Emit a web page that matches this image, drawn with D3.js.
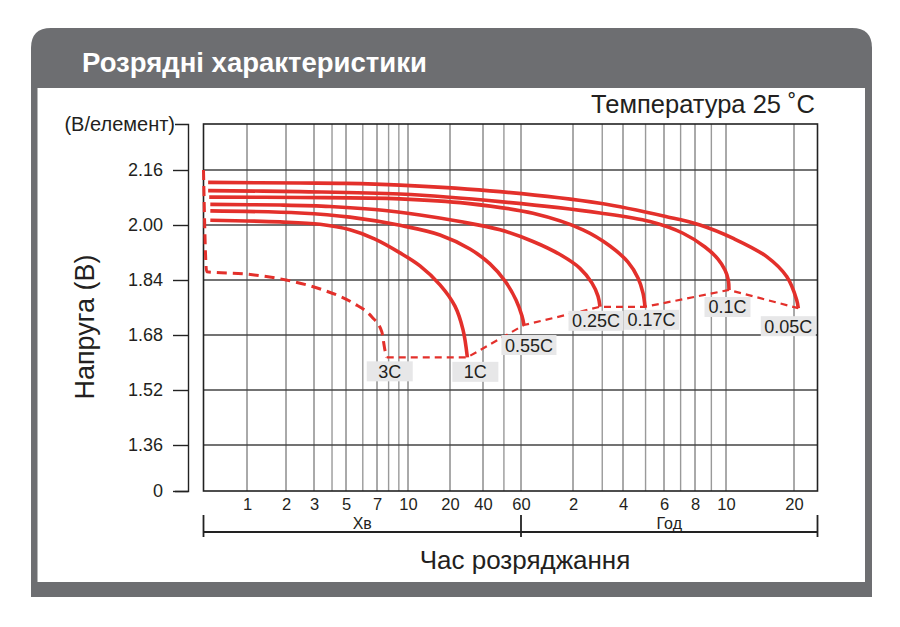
<!DOCTYPE html>
<html>
<head>
<meta charset="utf-8">
<script src="https://cdn.jsdelivr.net/npm/d3@7"></script>
<style>
  body { margin: 0; background: #fff; }
  svg text { font-family: "Liberation Sans", Arial, sans-serif; fill: #231f20; }
</style>
</head>
<body>
<div id="chart"></div>
<script>
// discharge rates, in the order their cut-off points get joined
const rates = ["3C", "1C", "0.55C", "0.25C", "0.17C", "0.1C", "0.05C"];

// each curve: [discharge time in minutes, volts per cell]
const curve3C = [[0.45, 2.16], [0.477, 1.864], [1.0, 1.857], [2.0, 1.84], [3.47, 1.811], [5.4, 1.773],
    [6.61, 1.733], [7.39, 1.69], [7.67, 1.636], [7.83, 1.615]];
const curve1C = [[0.51, 2.014], [1.8, 2.009], [3.3, 2.002], [5.22, 1.986], [6.85, 1.959], [9.12, 1.919],
    [12.19, 1.881], [16.96, 1.826], [22.2, 1.764], [26.3, 1.695], [28.8, 1.615]];
const curve055C = [[0.51, 2.041], [2.45, 2.035], [5.22, 2.023], [9.12, 1.999], [16.96, 1.971], [30.4, 1.93],
    [43.1, 1.887], [50.6, 1.837], [56.9, 1.782], [60.8, 1.735], [62.4, 1.709]];
const curve025C = [[0.51, 2.06], [1.8, 2.058], [3.87, 2.054], [6.85, 2.045], [12.19, 2.029], [24.7, 2.01],
    [48, 1.986], [70.4, 1.952], [100.9, 1.914], [132.2, 1.874], [156.2, 1.831], [169.7, 1.793], [174.5, 1.762]];
const curve017C = [[0.5, 2.081], [2.45, 2.08], [9.12, 2.076], [28.6, 2.063], [70.4, 2.034], [137.8, 1.986],
    [200.4, 1.939], [252.2, 1.892], [278.4, 1.846], [292.5, 1.802], [298.3, 1.762]];
const curve01C = [[0.49, 2.1], [2.45, 2.097], [9.12, 2.09], [48, 2.068], [174.5, 2.035], [313.4, 2.01],
    [429.4, 1.976], [515.8, 1.936], [566.4, 1.901], [595.7, 1.869], [614.2, 1.84], [618.6, 1.811]];
const curve005C = [[0.49, 2.124], [2.45, 2.122], [4.92, 2.121], [9.12, 2.116], [48, 2.097], [174.5, 2.063],
    [369.1, 2.024], [497.6, 2.0], [646.4, 1.961], [908.4, 1.908], [1113.8, 1.85], [1233, 1.782], [1253, 1.758]];

const yTicks = [0, 1.36, 1.52, 1.68, 1.84, 2.00, 2.16];
// x ticks in minutes, labels switch to hours after 60
const xTickValues = [1, 2, 3, 5, 7, 10, 20, 40, 60, 120, 240, 360, 480, 600, 1200];
const xTickLabels = ["1", "2", "3", "5", "7", "10", "20", "40", "60", "2", "4", "6", "8", "10", "20"];
const xGridValues = [1, 2, 3, 4, 5, 6, 7, 8, 9, 10, 20, 40, 50, 60,
    120, 180, 240, 300, 360, 420, 480, 540, 600, 1200];

const series = [curve3C, curve1C, curve055C, curve025C, curve017C, curve01C, curve005C]
    .map((pts, i) => ({ rate: rates[i], points: pts, dashed: i === 0 }));

const width = 900, height = 627;
const plot = { left: 203.5, right: 817.5, top: 124, bottom: 491 };
const red = "#e3302b";

const svg = d3.select("#chart")
    .append("svg")
    .attr("width", width)
    .attr("height", height);

// panel: grey card with rounded top, white body
svg.append("path")
    .attr("d", "M31,597V48Q31,28 51,28H852Q872,28 872,48V597Z")
    .attr("fill", "#6d6e71");
svg.append("rect")
    .attr("x", 37.5).attr("y", 88)
    .attr("width", 827.5).attr("height", 494)
    .attr("fill", "#fff");
svg.append("text")
    .attr("x", 82).attr("y", 71.5)
    .attr("font-size", 27.5).attr("font-weight", "bold")
    .style("fill", "#fff")
    .text("Розрядні характеристики");

// hand drawn log axis: piecewise log between the labelled ticks
const xScale = d3.scaleLog()
    .domain([0.45, ...xTickValues, 1520])
    .range([plot.left, 247, 286, 314, 346, 377, 408, 450, 483, 521, 573, 623, 664, 695, 726, 794, plot.right]);

// broken voltage axis: 0 sits right under 1.36
const yScale = d3.scaleLinear()
    .domain([0, 1.36, 2.16, 2.294])
    .range([plot.bottom, 445, 170, plot.top]);

// grid
svg.append("g")
    .selectAll("line")
    .data(xGridValues)
    .join("line")
    .attr("x1", d => xScale(d)).attr("x2", d => xScale(d))
    .attr("y1", plot.top).attr("y2", plot.bottom)
    .attr("stroke", d => xTickValues.includes(d) ? "#555" : "#9a9a9a")
    .attr("stroke-width", d => xTickValues.includes(d) ? 1 : 1.4);

svg.append("g")
    .selectAll("line")
    .data(yTicks.filter(d => d > 0))
    .join("line")
    .attr("x1", plot.left).attr("x2", plot.right)
    .attr("y1", d => yScale(d)).attr("y2", d => yScale(d))
    .attr("stroke", "#444")
    .attr("stroke-width", 1.3);

svg.append("rect")
    .attr("x", plot.left).attr("y", plot.top)
    .attr("width", plot.right - plot.left)
    .attr("height", plot.bottom - plot.top)
    .attr("fill", "none")
    .attr("stroke", "#222")
    .attr("stroke-width", 1.6);

// y axis sits apart from the frame
const yAxis = svg.append("g")
    .attr("transform", "translate(188,0)")
    .call(d3.axisLeft(yScale)
        .tickValues(yTicks)
        .tickSize(15)
        .tickSizeOuter(13)
        .tickPadding(10)
        .tickFormat(d => d === 0 ? "0" : d.toFixed(2)));
yAxis.selectAll("path, line").attr("stroke", "#222").attr("stroke-width", 1.4);
yAxis.selectAll("text").attr("font-size", 18).attr("font-family", null).attr("dy", "0.3em");

const xAxis = svg.append("g")
    .attr("transform", `translate(0,${plot.bottom})`)
    .call(d3.axisBottom(xScale)
        .tickValues(xTickValues)
        .tickSize(0)
        .tickPadding(7)
        .tickFormat((d, i) => xTickLabels[i]));
xAxis.select(".domain").remove();
xAxis.selectAll("text").attr("font-size", 16.5).attr("font-family", null);

// bracket under the ticks: minutes | hours
const bracketY = 532;
const bracket = svg.append("g").attr("stroke", "#222").attr("stroke-width", 1.8);
bracket.append("line")
    .attr("x1", plot.left).attr("x2", plot.right)
    .attr("y1", bracketY).attr("y2", bracketY);
bracket.selectAll(".end")
    .data([xScale.domain()[0], 60, xScale.domain()[xScale.domain().length - 1]])
    .join("line")
    .attr("x1", d => xScale(d)).attr("x2", d => xScale(d))
    .attr("y1", bracketY - 17).attr("y2", bracketY + 5);

svg.append("text")
    .attr("x", (plot.left + xScale(60)) / 2).attr("y", 528.5)
    .attr("text-anchor", "middle").attr("font-size", 16)
    .text("Хв");
svg.append("text")
    .attr("x", (xScale(60) + plot.right) / 2).attr("y", 528.5)
    .attr("text-anchor", "middle").attr("font-size", 16)
    .text("Год");

// axis titles
svg.append("text")
    .attr("x", 525).attr("y", 569)
    .attr("text-anchor", "middle").attr("font-size", 26)
    .text("Час розряджання");
svg.append("text")
    .attr("transform", "translate(94,327) rotate(-90)")
    .attr("text-anchor", "middle").attr("font-size", 27)
    .text("Напруга (В)");
svg.append("text")
    .attr("x", 175).attr("y", 131)
    .attr("text-anchor", "end").attr("font-size", 20)
    .text("(В/елемент)");
svg.append("text")
    .attr("x", 815).attr("y", 113)
    .attr("text-anchor", "end").attr("font-size", 25.5)
    .text("Температура 25 ˚C");

// discharge curves: catmull-rom for the smooth ones, monotone for the 3C
// one because its first drop is almost vertical
const smoothLine = d3.line()
    .x(d => xScale(d[0]))
    .y(d => yScale(d[1]))
    .curve(d3.curveCatmullRom.alpha(0.5));
const dropLine = d3.line()
    .x(d => xScale(d[0]))
    .y(d => yScale(d[1]))
    .curve(d3.curveMonotoneX);

svg.append("g")
    .selectAll("path")
    .data(series)
    .join("path")
    .attr("d", d => d.dashed ? dropLine(d.points) : smoothLine(d.points))
    .attr("fill", "none")
    .attr("stroke", red)
    .attr("stroke-width", d => d.dashed ? 3 : 3.6)
    .attr("stroke-dasharray", d => d.dashed ? "10,6" : null)
    .attr("stroke-linecap", "butt");

// cut-off voltage line through the end of every curve
const ends = series.map(s => s.points[s.points.length - 1]);
svg.append("path")
    .attr("d", d3.line().x(d => xScale(d[0])).y(d => yScale(d[1]))(ends))
    .attr("fill", "none")
    .attr("stroke", red)
    .attr("stroke-width", 2.2)
    .attr("stroke-dasharray", "7,5");

// rate tags next to the cut-off points
const tagOffset = {
    "3C": [3, 14], "1C": [8, 14.5], "0.55C": [5, 20], "0.25C": [-4, 14],
    "0.17C": [6.5, 13], "0.1C": [-1.5, 17], "0.05C": [-10, 18]
};
const tags = svg.append("g")
    .selectAll("g")
    .data(series)
    .join("g")
    .attr("transform", d => {
        const e = d.points[d.points.length - 1];
        const o = tagOffset[d.rate];
        return `translate(${xScale(e[0]) + o[0]},${yScale(e[1]) + o[1]})`;
    });
tags.append("rect").attr("fill", "#e7e7e8");
tags.append("text")
    .attr("text-anchor", "middle")
    .attr("dy", "0.36em")
    .attr("font-size", 18)
    .text(d => d.rate);
tags.each(function () {
    const g = d3.select(this);
    const w = Math.max(46, g.select("text").node().getComputedTextLength() + 7);
    g.select("rect")
        .attr("x", -w / 2).attr("y", -10)
        .attr("width", w).attr("height", 20);
});
</script>
</body>
</html>
